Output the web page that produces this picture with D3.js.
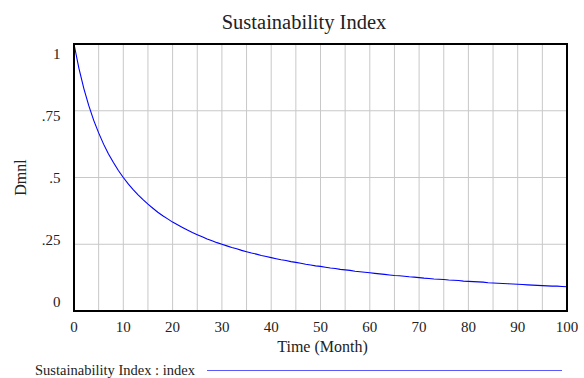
<!DOCTYPE html>
<html><head><meta charset="utf-8">
<script src="https://cdn.jsdelivr.net/npm/d3@7"></script>
<style>body{margin:0;background:#fff}svg{display:block}</style>
</head><body>
<svg id="c" width="584" height="378"></svg>
<script>
const title = "Sustainability Index";
const yLabel = "Dmnl";
const xLabel = "Time (Month)";
const seriesName = "Sustainability Index : index";
const months = d3.range(0, 101);
const index = [1.000,.909,.833,.769,.714,.667,.625,.588,.556,.526,
.500,.476,.455,.435,.417,.400,.385,.370,.357,.345,
.333,.323,.313,.303,.294,.286,.278,.270,.263,.256,
.250,.244,.238,.233,.227,.222,.217,.213,.208,.204,
.200,.196,.192,.189,.185,.182,.179,.175,.172,.169,
.167,.164,.161,.159,.156,.154,.152,.149,.147,.145,
.143,.141,.139,.137,.135,.133,.132,.130,.128,.127,
.125,.123,.122,.120,.119,.118,.116,.115,.114,.112,
.111,.110,.109,.108,.106,.105,.104,.103,.102,.101,
.100,.099,.098,.097,.096,.095,.094,.093,.093,.092,.091];
const xTicks = [0,10,20,30,40,50,60,70,80,90,100];
const xGrid = d3.range(5, 100, 5);
const yTicks = [0, .25, .5, .75, 1];
const yTickLabels = ["0", ".25", ".5", ".75", "1"];

const FONT = "'Liberation Serif', 'Times New Roman', Times, serif";
const L = 74, R = 567, T = 44, B = 311;
const svg = d3.select("#c").style("font-family", FONT);
const x = d3.scaleLinear().domain([0, 100]).range([L, R]);
const y = d3.scaleLinear().domain([0, 1]).range([B, T]);
const yLab = d3.scaleLinear().domain([0, 1]).range([307, 59]);

function txt(g) { return g.append("text").attr("font-family", FONT).attr("fill", "#222"); }

// grid
svg.append("g").selectAll("line").data(xGrid).join("line")
  .attr("x1", d => x(d)).attr("x2", d => x(d)).attr("y1", T).attr("y2", B)
  .attr("stroke", "#c8c8c8").attr("stroke-width", 1);
svg.append("g").selectAll("line").data(yTicks.slice(1, 4)).join("line")
  .attr("x1", L).attr("x2", R).attr("y1", d => y(d)).attr("y2", d => y(d))
  .attr("stroke", "#c8c8c8").attr("stroke-width", 1);

// curve
const line = d3.line().x((d, i) => x(months[i])).y(d => y(d));
svg.append("path").datum(index).attr("d", line)
  .attr("fill", "none").attr("stroke", "#0000ff").attr("stroke-width", 1.1);

// frame
svg.append("rect").attr("x", L).attr("y", T).attr("width", R - L).attr("height", B - T)
  .attr("fill", "none").attr("stroke", "#000").attr("stroke-width", 2);

// ticks
svg.append("g").selectAll("text").data(xTicks).join("text")
  .attr("font-family", FONT).attr("fill", "#222")
  .attr("x", d => x(d)).attr("y", 331.5).attr("text-anchor", "middle")
  .attr("font-size", 15).text(d => d);
svg.append("g").selectAll("text").data(yTicks).join("text")
  .attr("font-family", FONT).attr("fill", "#222")
  .attr("x", 60.5).attr("y", d => yLab(d)).attr("text-anchor", "end")
  .attr("font-size", 15).text((d, i) => yTickLabels[i]);

// labels
txt(svg).attr("x", 304).attr("y", 29).attr("text-anchor", "middle")
  .attr("font-size", 20.5).text(title);
txt(svg).attr("x", 322.5).attr("y", 352).attr("text-anchor", "middle")
  .attr("font-size", 16).text(xLabel);
txt(svg).attr("transform", `translate(26,${(T + B) / 2}) rotate(-90)`)
  .attr("text-anchor", "middle").attr("font-size", 16).text(yLabel);

// legend
txt(svg).attr("x", 35).attr("y", 375).attr("font-size", 14.5).text(seriesName);
svg.append("line").attr("x1", 207).attr("x2", 562).attr("y1", 370.5).attr("y2", 370.5)
  .attr("stroke", "#5a5aff").attr("stroke-width", 1);
</script>
</body></html>
